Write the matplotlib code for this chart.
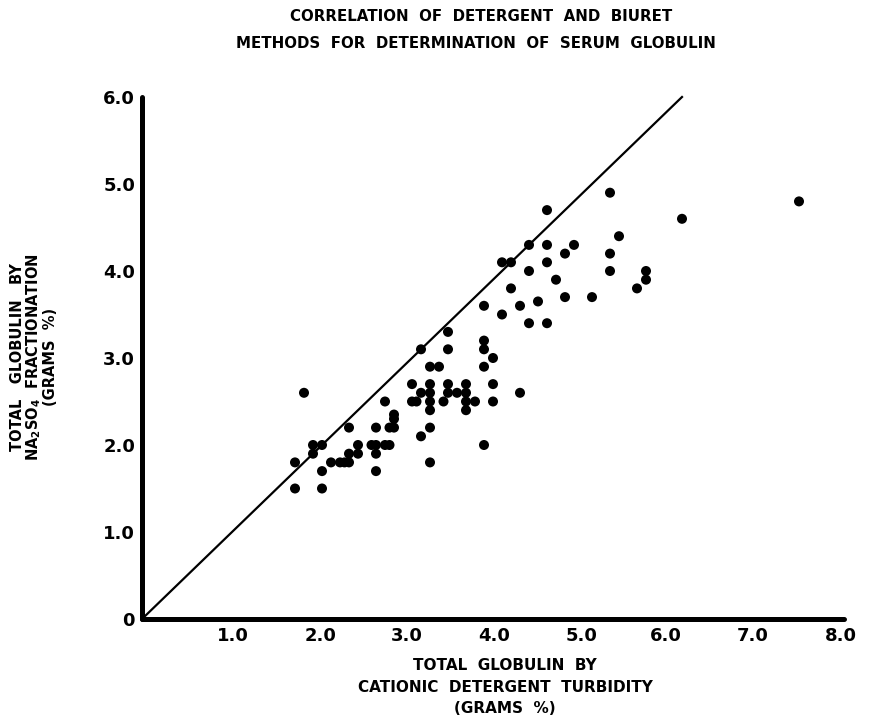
import matplotlib.pyplot as plt

# total globulin, grams % : detergent turbidity (x) vs Na2SO4 fractionation (y)
detergent = [1.7, 1.7, 1.8, 1.9, 2.0, 1.9, 2.0, 2.0, 2.1, 2.2,
             2.25, 2.3, 2.3, 2.4, 2.4, 2.3, 2.6, 2.55, 2.6, 2.7,
             2.75, 2.6, 2.6, 2.7, 2.8, 2.8, 2.75, 2.8, 3.1, 3.0,
             3.05, 3.0, 3.1, 3.1, 3.2, 3.3, 3.2, 3.2, 3.2, 3.2,
             3.2, 3.2, 3.35, 3.4, 3.4, 3.4, 3.4, 3.5, 3.6, 3.6,
             3.6, 3.7, 3.6, 3.8, 3.8, 3.8, 3.8, 3.8, 3.9, 3.9,
             3.9, 4.0, 4.1, 4.0, 4.1, 4.2, 4.2, 4.3, 4.3, 4.3,
             4.4, 4.5, 4.5, 4.5, 4.5, 4.6, 4.7, 4.7, 4.8, 5.0,
             5.2, 5.2, 5.2, 5.3, 5.5, 5.6, 5.6, 6.0, 7.3]
sulfate = [1.8, 1.5, 2.6, 2.0, 2.0, 1.9, 1.7, 1.5, 1.8, 1.8,
           1.8, 1.8, 1.9, 1.9, 2.0, 2.2, 2.2, 2.0, 2.0, 2.0,
           2.0, 1.9, 1.7, 2.5, 2.35, 2.3, 2.2, 2.2, 2.1, 2.5,
           2.5, 2.7, 2.6, 3.1, 2.9, 2.9, 2.7, 2.6, 2.5, 2.4,
           2.2, 1.8, 2.5, 3.3, 3.1, 2.7, 2.6, 2.6, 2.7, 2.6,
           2.5, 2.5, 2.4, 3.2, 3.1, 2.9, 2.0, 3.6, 3.0, 2.7,
           2.5, 4.1, 4.1, 3.5, 3.8, 3.6, 2.6, 4.3, 4.0, 3.4,
           3.65, 4.7, 4.3, 4.1, 3.4, 3.9, 4.2, 3.7, 4.3, 3.7,
           4.9, 4.2, 4.0, 4.4, 3.8, 4.0, 3.9, 4.6, 4.8]

# line of equality
eq_x = [0, 6.0]
eq_y = [0, 6.0]

# where the printed x labels sit on the original drawing
x_tick_pos = [1.01, 1.98, 2.94, 3.91, 4.88, 5.82, 6.79, 7.76]
x_tick_labels = ['1.0', '2.0', '3.0', '4.0', '5.0', '6.0', '7.0', '8.0']
y_ticks = [0, 1, 2, 3, 4, 5, 6]
y_tick_labels = ['0', '1.0', '2.0', '3.0', '4.0', '5.0', '6.0']

plt.rcParams['font.family'] = 'DejaVu Sans'
plt.rcParams['font.weight'] = 'bold'

fig = plt.figure(figsize=(8.73, 7.26), dpi=100)
ax = fig.add_axes([142/873, 107/726, 702/873, 522/726])

ax.plot(eq_x, eq_y, color='black', linewidth=1.6, clip_on=False)
ax.scatter(detergent, sulfate, s=52, color='black', edgecolors='none',
           zorder=3, clip_on=False)

ax.set_xlim(0, 7.8)
ax.set_ylim(0, 6.0)

for side in ['top', 'right']:
    ax.spines[side].set_visible(False)
for side in ['left', 'bottom']:
    ax.spines[side].set_linewidth(3.6)
    ax.spines[side].set_capstyle('round')

ax.set_xticks(x_tick_pos)
ax.set_xticklabels(x_tick_labels, fontsize=13, fontweight='bold')
ax.set_yticks(y_ticks)
ax.set_yticklabels(y_tick_labels, fontsize=13, fontweight='bold')
ax.tick_params(length=0)
ax.tick_params(axis='x', pad=6)
ax.tick_params(axis='y', pad=5)

fig.text(0.551, 0.977, 'CORRELATION  OF  DETERGENT  AND  BIURET',
         ha='center', va='center', fontsize=10.8, fontweight='bold')
fig.text(0.545, 0.940, 'METHODS  FOR  DETERMINATION  OF  SERUM  GLOBULIN',
         ha='center', va='center', fontsize=10.8, fontweight='bold')

fig.text(505/873, 1 - 687/726,
         'TOTAL  GLOBULIN  BY\nCATIONIC  DETERGENT  TURBIDITY\n(GRAMS  %)',
         ha='center', va='center', fontsize=11, fontweight='bold',
         linespacing=1.55)

fig.text(34/873, 1 - 357/726,
         'TOTAL   GLOBULIN   BY\n'
         r'NA$_{\mathbf{2}}$SO$_{\mathbf{4}}$  FRACTIONATION' + '\n(GRAMS  %)',
         ha='center', va='center', rotation=90, fontsize=10.5,
         fontweight='bold', linespacing=0.98)

fig.savefig('out.png', dpi=100)
